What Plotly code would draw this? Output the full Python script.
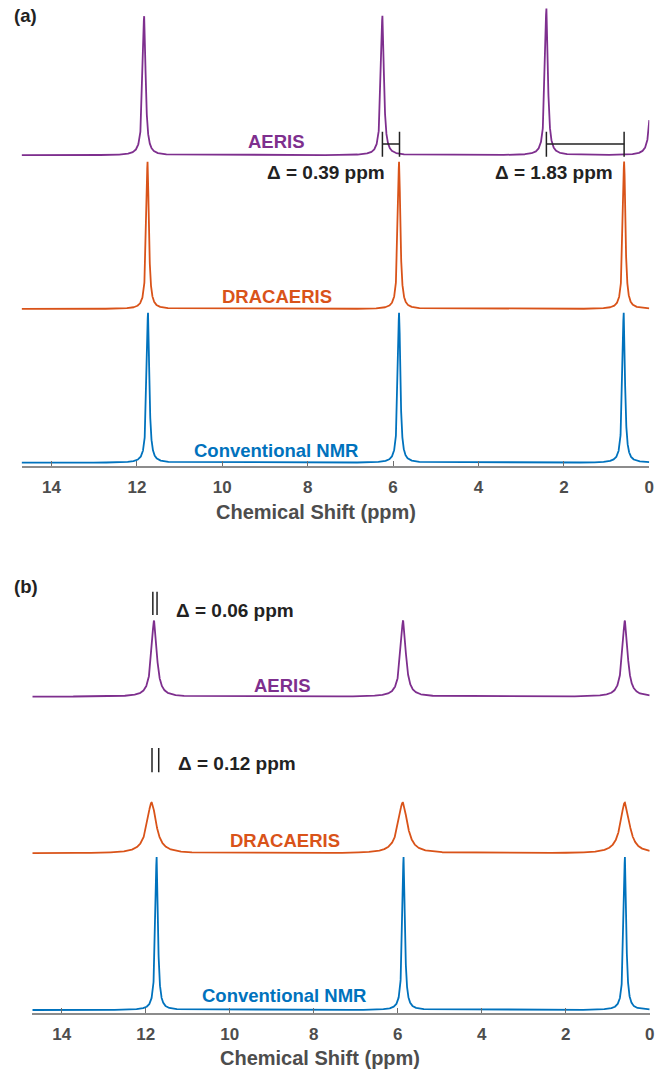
import numpy as np
import plotly.graph_objects as go

W, H = 666, 1071
PURPLE = "#7E2F8E"
ORANGE = "#D95319"
BLUE = "#0072BD"
FONT = "Liberation Sans, Arial, Helvetica, sans-serif"

# ---------------- data: peak lists (ppm, intensity, half-width ppm) ----------------
# Panel (a)
a_aeris_ppm = [11.83, 6.25, 2.41, -0.07]
a_aeris_int = [0.927, 0.929, 0.978, 0.95]
a_aeris_hw = [0.04, 0.04, 0.04, 0.04]
a_aeris_base = 2.07

a_drac_ppm = [11.75, 5.86, 0.59]
a_drac_int = [0.982, 0.982, 0.982]
a_drac_hw = [0.035, 0.035, 0.035]
a_drac_base = 1.045

a_conv_ppm = [11.74, 5.86, 0.60]
a_conv_int = [1.0, 1.0, 1.0]
a_conv_hw = [0.035, 0.035, 0.035]
a_conv_base = 0.02

# Panel (b)
b_aeris_ppm = [11.80, 5.87, 0.59]
b_aeris_int = [0.507, 0.507, 0.507]
b_aeris_hw = [0.075, 0.075, 0.075]
b_aeris_base = 2.109

b_drac_ppm = [11.86, 5.88, 0.59]
b_drac_int = [0.338, 0.338, 0.338]
b_drac_hw = [0.13, 0.13, 0.13]
b_drac_base = 1.065

b_conv_ppm = [11.74, 5.86, 0.59]
b_conv_int = [1.02, 1.02, 1.02]
b_conv_hw = [0.035, 0.035, 0.035]
b_conv_base = 0.02

x_ticks = [14, 12, 10, 8, 6, 4, 2, 0]
x_range = [14.7, 0]

# spectral window shown (ppm)
ppm_grid = np.linspace(0.0, 14.7, 8000)


def spectrum(ppm, inten, hw, base):
    y = np.full_like(ppm_grid, base)
    for p, h, g in zip(ppm, inten, hw):
        y += h / (1.0 + ((ppm_grid - p) / g) ** 2)
    return y


def px2py(px):
    return 1 - px / H


fig = go.Figure()

# domains
xa_dom = [21.6 / W, 649.3 / W]
ya_dom = [px2py(465.7), px2py(5)]
xb_dom = [32.3 / W, 649.7 / W]
yb_dom = [px2py(1013), px2py(575)]
ya_top = (465.7 - 5) / 150
yb_top = (1013 - 575) / 150

series_a = [
    (a_aeris_ppm, a_aeris_int, a_aeris_hw, a_aeris_base, PURPLE),
    (a_drac_ppm, a_drac_int, a_drac_hw, a_drac_base, ORANGE),
    (a_conv_ppm, a_conv_int, a_conv_hw, a_conv_base, BLUE),
]
series_b = [
    (b_aeris_ppm, b_aeris_int, b_aeris_hw, b_aeris_base, PURPLE),
    (b_drac_ppm, b_drac_int, b_drac_hw, b_drac_base, ORANGE),
    (b_conv_ppm, b_conv_int, b_conv_hw, b_conv_base, BLUE),
]

for ppm, inten, hw, base, col in series_a:
    fig.add_trace(go.Scatter(x=ppm_grid, y=spectrum(ppm, inten, hw, base), mode="lines",
                             line=dict(color=col, width=1.8), xaxis="x", yaxis="y",
                             showlegend=False, hoverinfo="skip"))
for ppm, inten, hw, base, col in series_b:
    fig.add_trace(go.Scatter(x=ppm_grid, y=spectrum(ppm, inten, hw, base), mode="lines",
                             line=dict(color=col, width=1.8), xaxis="x2", yaxis="y2",
                             showlegend=False, hoverinfo="skip"))

axis_common = dict(
    tickvals=x_ticks, ticktext=[str(t) for t in x_ticks], range=x_range,
    showline=True, linecolor="#8c8c8c", linewidth=1.5, ticks="inside", ticklen=5,
    tickcolor="#6e6e6e", tickwidth=1, showgrid=False, zeroline=False,
    tickfont=dict(family=FONT, size=17, color="#4D4D4D", weight="bold"),
    ticklabelstandoff=5, automargin=False,
)
yaxis_common = dict(visible=False, showgrid=False, zeroline=False, automargin=False)

fig.update_layout(
    template="none",
    width=W, height=H, margin=dict(l=0, r=0, t=0, b=0, pad=0), autosize=False,
    paper_bgcolor="white", plot_bgcolor="white",
    xaxis=dict(domain=xa_dom, anchor="y", **axis_common),
    yaxis=dict(domain=ya_dom, range=[0, ya_top], anchor="x", **yaxis_common),
    xaxis2=dict(domain=xb_dom, anchor="y2", **axis_common),
    yaxis2=dict(domain=yb_dom, range=[0, yb_top], anchor="x2", **yaxis_common),
)

# bracket shapes (data coords)
def vline(xref, yref, x, y0, y1):
    fig.add_shape(type="line", xref=xref, yref=yref, x0=x, x1=x, y0=y0, y1=y1,
                  line=dict(color="#222222", width=1.5))


def hline(xref, yref, x0, x1, y):
    fig.add_shape(type="line", xref=xref, yref=yref, x0=x0, x1=x1, y0=y, y1=y,
                  line=dict(color="#222222", width=1.5))


# panel (a) brackets
for (xl, xr) in [(6.25, 5.85), (2.41, 0.59)]:
    vline("x", "y", xl, 2.06, 2.227)
    vline("x", "y", xr, 2.06, 2.227)
    hline("x", "y", xl, xr, 2.145)

# panel (b) double bars
for x in [11.83, 11.73]:
    vline("x2", "y2", x, 2.653, 2.809)
for x in [11.85, 11.69]:
    vline("x2", "y2", x, 1.605, 1.767)


def text(x_px, y_px, s, color, size=18.5):
    fig.add_annotation(x=x_px / W, y=px2py(y_px), xref="paper", yref="paper",
                       text=s, showarrow=False, xanchor="center", yanchor="middle",
                       font=dict(family=FONT, size=size, color=color, weight="bold"))


text(276, 141.7, "AERIS", PURPLE)
text(277, 296, "DRACAERIS", ORANGE)
text(276, 450, "Conventional NMR", BLUE)
text(325.7, 173, "Δ = 0.39 ppm", "#222222", 19)
text(554.3, 173, "Δ = 1.83 ppm", "#222222", 19)
text(316, 512, "Chemical Shift (ppm)", "#4D4D4D", 20)
text(25.3, 16, "(a)", "#222222")

text(282, 685, "AERIS", PURPLE)
text(285, 840, "DRACAERIS", ORANGE)
text(284, 995.7, "Conventional NMR", BLUE)
text(235, 610.7, "Δ = 0.06 ppm", "#222222", 19)
text(236.5, 763, "Δ = 0.12 ppm", "#222222", 19)
text(320, 1058, "Chemical Shift (ppm)", "#4D4D4D", 20)
text(25.5, 586.7, "(b)", "#222222")

fig.write_html("out.html")
